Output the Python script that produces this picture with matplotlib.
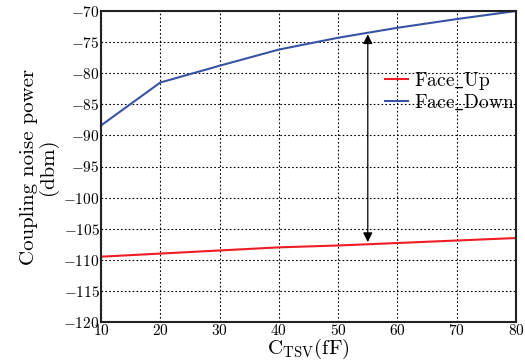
import numpy as np
import matplotlib.pyplot as plt

plt.rcParams['font.family'] = 'serif'
plt.rcParams['font.serif'] = ['cmr10']
plt.rcParams['mathtext.fontset'] = 'cm'
plt.rcParams['axes.unicode_minus'] = False
plt.rcParams['axes.formatter.use_mathtext'] = True

c_tsv = [10, 20, 30, 40, 50, 60, 70, 80]
face_up = [-109.5, -109.0, -108.5, -108.0, -107.7, -107.3, -106.9, -106.5]
face_down = [-88.4, -81.5, -78.8, -76.2, -74.3, -72.7, -71.3, -70.0]

fig = plt.figure(figsize=(5.25, 3.61), dpi=100)
ax = fig.add_axes([101 / 525, 39 / 361, 415 / 525, 311 / 361])

ax.plot(c_tsv, face_up, color='#ee1c24', lw=1.5, label=r'$\mathrm{Face\_Up}$')
ax.plot(c_tsv, face_down, color='#3953a4', lw=1.5, label=r'$\mathrm{Face\_Down}$')

ax.annotate('', xy=(55, -73.3), xytext=(55, -107.6),
            arrowprops=dict(arrowstyle='<|-|>', color='black', lw=0.9, mutation_scale=14))

ax.set_xlim(10, 80)
ax.set_ylim(-120, -70)
ax.set_xticks(range(10, 81, 10))
ax.set_yticks(range(-120, -69, 5))
ax.grid(True, color='black', linestyle=(0, (1.5, 2)), lw=0.8)
ax.tick_params(direction='in', length=0, labelsize=11, pad=1)
for s in ax.spines.values():
    s.set_linewidth(1.5)
    s.set_color('#222222')

ax.set_xlabel(r'C$_{\rm TSV}$(fF)', fontsize=15, labelpad=-1)
ax.set_ylabel('Coupling noise power\n(dbm)', fontsize=15, labelpad=4, linespacing=0.95)

leg = ax.legend(loc='upper left', bbox_to_anchor=(0.665, 0.835), frameon=False,
                fontsize=14, handlelength=1.2, handletextpad=0.3, labelspacing=0.0,
                borderaxespad=0)

fig.savefig('out.png', dpi=100)
